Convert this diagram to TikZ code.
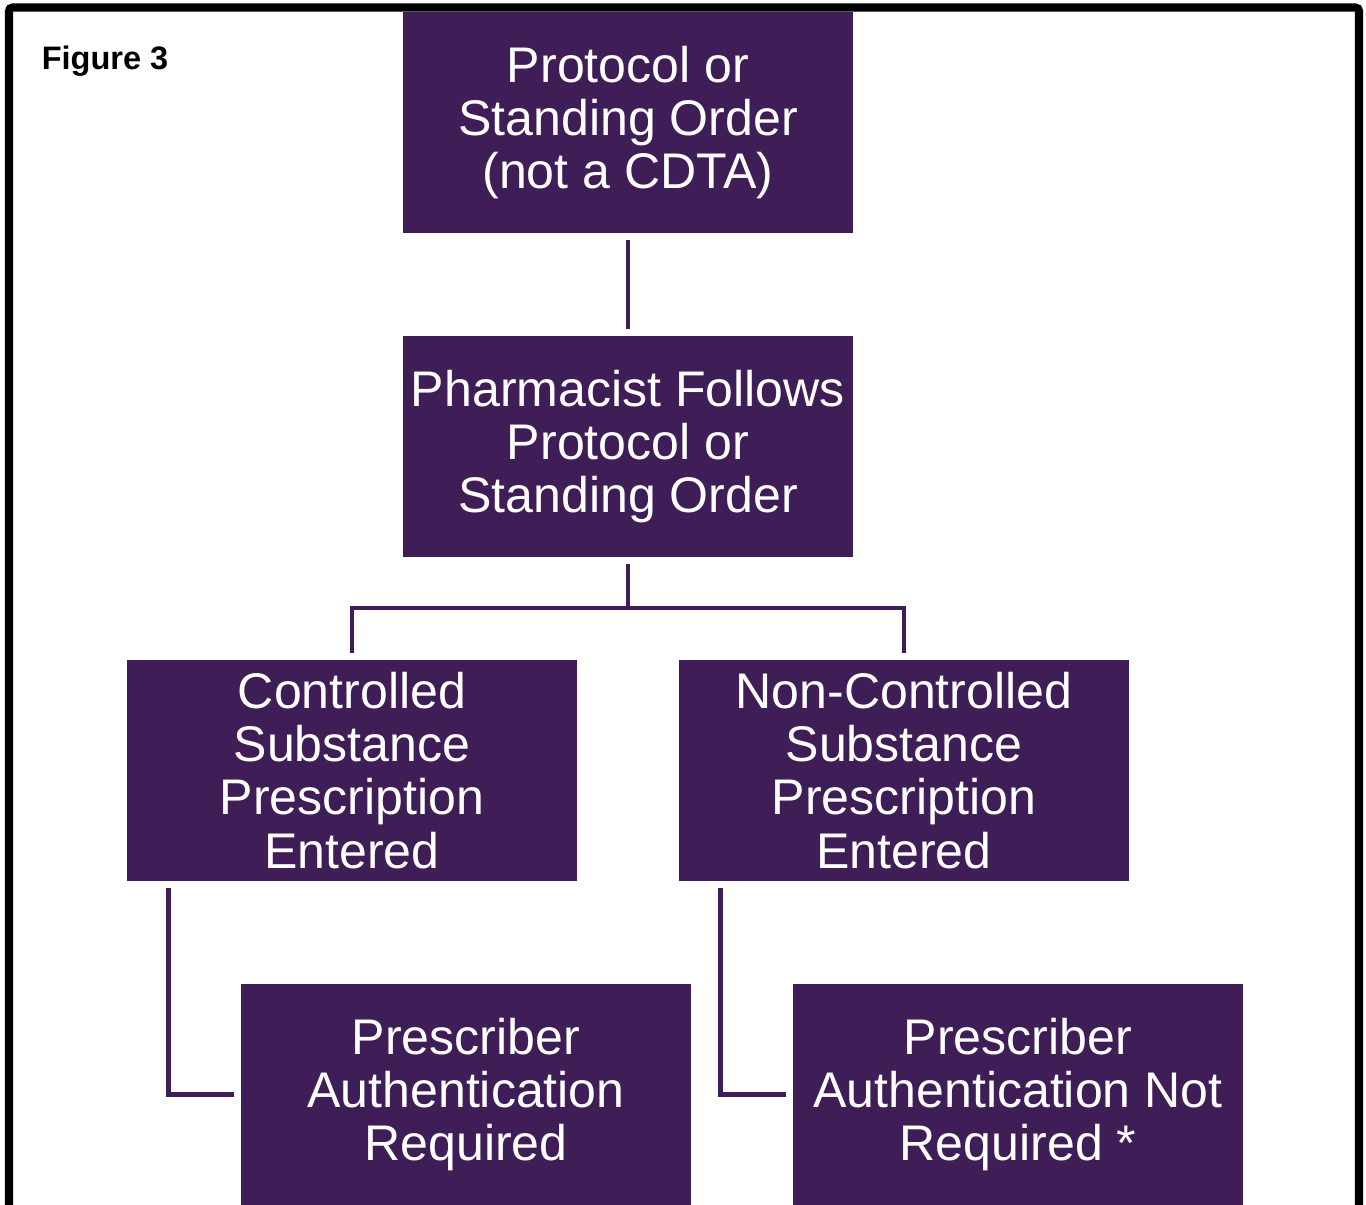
\documentclass[tikz,border=0pt]{standalone}
\usepackage{fontspec}
\setmainfont{Liberation Sans}
\definecolor{plum}{RGB}{63,29,87}
\begin{document}
\begin{tikzpicture}[x=0.02cm, y=-0.02cm,
    stepbox/.style={fill=plum, text=white, minimum width=9cm, minimum height=4.42cm,
        inner sep=0pt, align=center, font=\fontsize{28.5}{30.2}\selectfont},
    link/.style={draw=plum, line width=2.8pt, shorten <=0.14cm, shorten >=0.14cm}]
            \useasboundingbox (0,0) rectangle (1366,1204);
            \draw[line width=4.6pt, rounded corners=2pt] (9,1215) -- (9,7.5) -- (1359,7.5) -- (1359,1215);
            \node[font=\bfseries\fontsize{18.5}{20}\selectfont] (fig) at (105, 61) {Figure 3};
            \node[stepbox] (v0) at (628, 122.5) {Protocol or\\Standing Order\\(not a CDTA)};
            \node[stepbox] (v1) at (628, 446.5) {Pharmacist Follows\\Protocol or\\Standing Order};
            \node[stepbox] (v2) at (352, 770.5) {Controlled\\Substance\\Prescription\\Entered};
            \node[stepbox] (v3) at (904, 770.5) {Non-Controlled\\Substance\\Prescription\\Entered};
            \node[stepbox] (v4) at (466, 1094.5) {Prescriber\\Authentication\\Required};
            \node[stepbox] (v5) at (1018, 1094.5) {Prescriber\\Authentication Not\\Required *};
            \coordinate (fork) at (628, 608);
            \draw[link] (v0) -- (v1);
            \draw[link, shorten >=0pt] (v1) -- (fork);
            \draw[link, shorten >=0pt] (v2) |- (fork);
            \draw[link, shorten >=0pt] (v3) |- (fork);
            \draw[link] ([xshift=0.84cm]v2.south west) |- (v4.west);
            \draw[link] ([xshift=0.84cm]v3.south west) |- (v5.west);
         \end{tikzpicture}
\end{document}
